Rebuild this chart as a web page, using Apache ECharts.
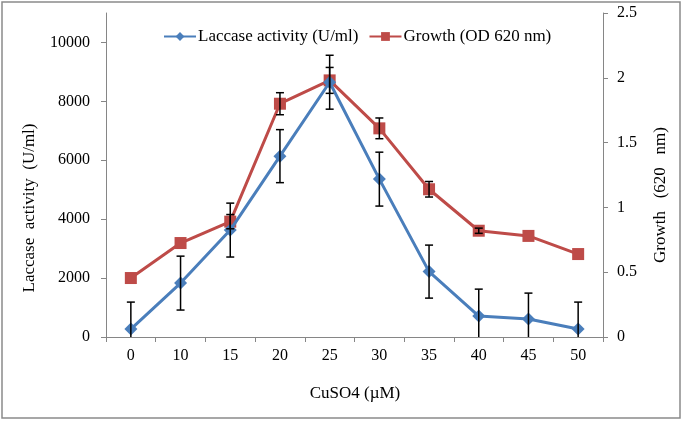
<!DOCTYPE html>
<html>
<head>
<meta charset="utf-8">
<script src="https://cdn.jsdelivr.net/npm/echarts@6/dist/echarts.min.js"></script>
<style>
html,body{margin:0;padding:0;background:#fff;}
#chart{width:683px;height:421px;}
</style>
</head>
<body>
<div id="chart"></div>
<script>
var categories = ['0', '10', '15', '20', '25', '30', '35', '40', '45', '50'];
var laccase = [270, 1830, 3630, 6140, 8650, 5360, 2220, 710, 610, 270];
var laccaseErr = [915, 915, 915, 900, 915, 915, 900, 915, 880, 915];
var growth = [0.455, 0.725, 0.89, 1.80, 1.98, 1.61, 1.14, 0.82, 0.78, 0.64];
var growthErr = [0, 0, 0.055, 0.085, 0.1, 0.08, 0.06, 0.02, 0, 0];
var leftTicks = [0, 2000, 4000, 6000, 8000, 10000];

var FONT = '"Liberation Serif", "Times New Roman", serif';
var BLUE = '#4A7EBB';
var RED = '#BE4B48';
var AXIS = '#868686';

function errData(vals, errs) {
  return vals.map(function (v, i) { return [i, Math.max(0, v - errs[i]), v + errs[i], v - errs[i] >= 0 ? 1 : 0, errs[i]]; });
}

function errRender(params, api) {
  if (api.value(4) <= 0) return null;
  var x = api.value(0);
  var lo = api.coord([x, api.value(1)]);
  var hi = api.coord([x, api.value(2)]);
  var showLow = api.value(3) === 1;
  var w = 4;
  var style = { stroke: '#000', lineWidth: 1.5 };
  var children = [
    { type: 'line', shape: { x1: hi[0], y1: hi[1], x2: lo[0], y2: lo[1] }, style: style },
    { type: 'line', shape: { x1: hi[0] - w, y1: hi[1], x2: hi[0] + w, y2: hi[1] }, style: style }
  ];
  if (showLow) {
    children.push({ type: 'line', shape: { x1: lo[0] - w, y1: lo[1], x2: lo[0] + w, y2: lo[1] }, style: style });
  }
  return { type: 'group', children: children };
}

var chart = echarts.init(document.getElementById('chart'), null, { renderer: 'canvas' });
chart.setOption({
  backgroundColor: '#fff',
  animation: false,
  textStyle: { fontFamily: FONT },
  grid: { left: 106, right: 80, top: 13, bottom: 84, containLabel: false },
  legend: {
    top: 23,
    left: 158,
    itemWidth: 32,
    itemHeight: 11,
    itemGap: 10,
    textStyle: { fontFamily: FONT, fontSize: 17, color: '#000', padding: [0, 0, 0, -3] },
    data: ['Laccase activity (U/ml)', 'Growth (OD 620 nm)']
  },
  xAxis: {
    type: 'category',
    data: categories,
    boundaryGap: true,
    axisLine: { lineStyle: { color: AXIS, width: 1 } },
    axisTick: { show: true, interval: 0, length: 5, lineStyle: { color: AXIS } },
    axisLabel: { color: '#000', fontSize: 16, fontFamily: FONT, margin: 11, interval: 0 },
    splitLine: { show: false }
  },
  yAxis: [
    {
      type: 'value',
      position: 'left',
      min: 0, max: 11000, interval: 2000,
      axisLine: { show: true, lineStyle: { color: AXIS, width: 1 } },
      axisTick: { show: true, length: 5, lineStyle: { color: AXIS }, customValues: leftTicks },
      axisLabel: { color: '#000', fontSize: 16, fontFamily: FONT, margin: 16, customValues: leftTicks,
        formatter: function (v) { return String(v); } },
      splitLine: { show: false }
    },
    {
      type: 'value',
      position: 'right',
      min: 0, max: 2.5, interval: 0.5,
      axisLine: { show: true, lineStyle: { color: AXIS, width: 1 } },
      axisTick: { show: true, length: 5, lineStyle: { color: AXIS } },
      axisLabel: { color: '#000', fontSize: 16, fontFamily: FONT, margin: 14,
        formatter: function (v) { return String(v); } },
      splitLine: { show: false }
    }
  ],
  series: [
    {
      name: 'Laccase activity (U/ml)',
      type: 'line',
      yAxisIndex: 0,
      data: laccase,
      symbol: 'diamond',
      symbolSize: 13,
      itemStyle: { color: BLUE },
      lineStyle: { color: BLUE, width: 3 },
      z: 3
    },
    {
      name: 'Growth (OD 620 nm)',
      type: 'line',
      yAxisIndex: 1,
      data: growth,
      symbol: 'rect',
      symbolSize: 12,
      itemStyle: { color: RED },
      lineStyle: { color: RED, width: 3 },
      z: 2
    },
    {
      type: 'custom',
      yAxisIndex: 0,
      renderItem: errRender,
      data: errData(laccase, laccaseErr),
      z: 10,
      silent: true
    },
    {
      type: 'custom',
      yAxisIndex: 1,
      renderItem: errRender,
      data: errData(growth, growthErr),
      z: 10,
      silent: true
    }
  ],
  graphic: [
    { type: 'rect', shape: { x: 2, y: 2, width: 678, height: 416 }, style: { fill: 'none', stroke: '#8a8a8a', lineWidth: 1.5 }, z: 100 },
    { type: 'text', x: 30, y: 208, rotation: Math.PI / 2,
      style: { text: 'Laccase  activity  (U/ml)', font: '17px ' + FONT, fill: '#000', textAlign: 'center', textVerticalAlign: 'middle' } },
    { type: 'text', x: 661, y: 195, rotation: Math.PI / 2,
      style: { text: 'Growth   (620   nm)', font: '17px ' + FONT, fill: '#000', textAlign: 'center', textVerticalAlign: 'middle' } },
    { type: 'text', x: 355, y: 394,
      style: { text: 'CuSO4 (\u00B5M)', font: '17px ' + FONT, fill: '#000', textAlign: 'center', textVerticalAlign: 'middle' } }
  ]
});
</script>
</body>
</html>
